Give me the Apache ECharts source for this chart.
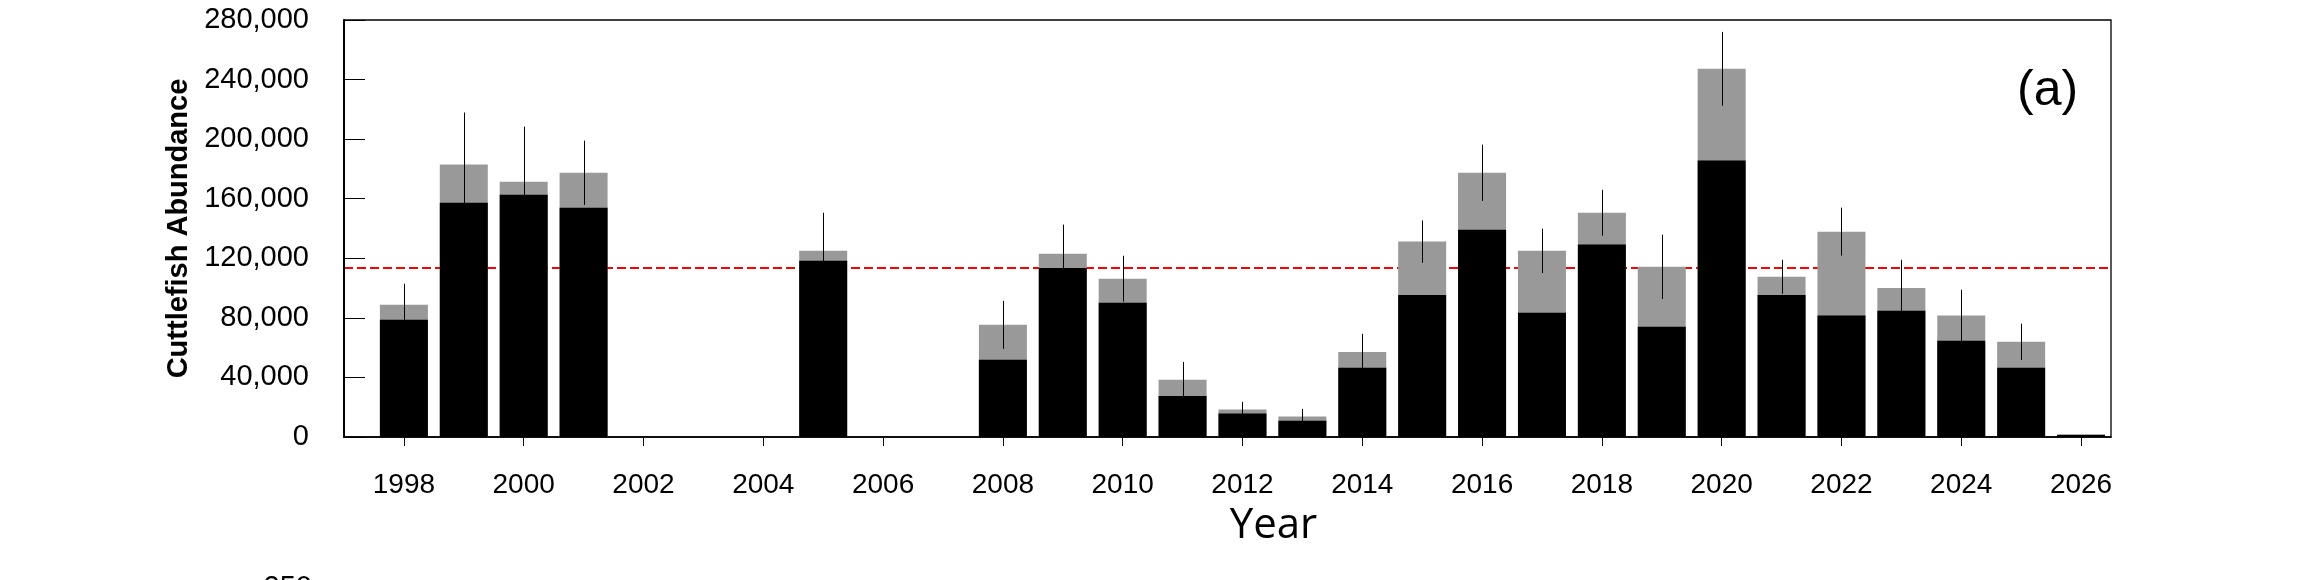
<!DOCTYPE html>
<html>
<head>
<meta charset="utf-8">
<script src="https://cdn.jsdelivr.net/npm/echarts@6/dist/echarts.min.js"></script>
<style>
  html, body { margin: 0; padding: 0; background: #fff; }
  #chart { width: 2301px; height: 580px; }
</style>
</head>
<body>
<div id="chart"></div>
<script>
// years with survey data (gaps in 2002-2004, 2006-2007)
var years      = [1998, 1999, 2000, 2001, 2005, 2008, 2009, 2010, 2011, 2012, 2013, 2014, 2015, 2016, 2017, 2018, 2019, 2020, 2021, 2022, 2023, 2024, 2025, 2026];
// black part of each bar
var lowerVals  = [78800, 157300, 162700, 154000, 118300, 51900, 113500, 90200, 27600, 15700, 10900, 46500, 95400, 139100, 83500, 129200, 74000, 185600, 95400, 81500, 84700, 64600, 46500, 1500];
// total height (top of grey part)
var totalVals  = [88800, 182900, 171400, 177400, 125000, 75300, 123000, 106300, 38500, 18400, 13700, 57100, 131200, 177400, 125000, 150600, 114300, 247200, 107600, 137900, 100100, 81500, 63900, 1500];
// +/- error around total
var errVals    = [14100, 35000, 37000, 21600, 25600, 16100, 19600, 15400, 11900, 5200, 5200, 12200, 14200, 18900, 14900, 15400, 21600, 24800, 11400, 16100, 18900, 17400, 12200, 0];
var meanLine   = 113900;
var yearTicks  = [1998, 2000, 2002, 2004, 2006, 2008, 2010, 2012, 2014, 2016, 2018, 2020, 2022, 2024, 2026];

var fontMain = "'Liberation Sans', Arial, sans-serif";

var blackData = [], greyData = [], errData = [];
for (var i = 0; i < years.length; i++) {
	blackData.push([years[i], lowerVals[i]]);
	greyData.push([years[i], totalVals[i]]);
	if (errVals[i] > 0) {
		errData.push([years[i], totalVals[i] - errVals[i], totalVals[i] + errVals[i]]);
	}
}

var option = {
	animation : false,
	backgroundColor : '#fff',
	grid : {
		left : 344,
		right : 190,
		top : 20,
		bottom : 143,
		show : true,
		borderColor : '#000',
		borderWidth : 1.3
	},
	xAxis : {
		type : 'value',
		min : 1997,
		max : 2026.5,
		name : 'Year',
		nameLocation : 'middle',
		nameGap : 68,
		nameTextStyle : {
			fontFamily : "'Open Sans', sans-serif",
			fontSize : 42,
			color : '#000',
			padding : [0, 0, 0, 92]
		},
		axisLine : { lineStyle : { color : '#000', width : 1.5 } },
		axisTick : {
			customValues : yearTicks,
			inside : false,
			length : 9,
			lineStyle : { color : '#000', width : 1 }
		},
		axisLabel : {
			customValues : yearTicks,
			margin : 34,
			fontFamily : fontMain,
			fontSize : 28,
			color : '#000',
			formatter : function (v) {
				return String(v);
			}
		},
		splitLine : { show : false }
	},
	yAxis : {
		type : 'value',
		min : 0,
		max : 280000,
		interval : 40000,
		name : 'Cuttlefish Abundance',
		nameLocation : 'middle',
		nameRotate : 90,
		nameGap : 150,
		nameTextStyle : {
			fontFamily : fontMain,
			fontSize : 29,
			fontWeight : 'bold',
			color : '#000'
		},
		axisLine : { show : true, lineStyle : { color : '#000', width : 2 } },
		axisTick : {
			show : true,
			inside : true,
			length : 21,
			lineStyle : { color : '#000', width : 1 }
		},
		axisLabel : {
			margin : 35,
			fontFamily : fontMain,
			fontSize : 29,
			color : '#000',
			formatter : function (v) {
				return v.toLocaleString('en-US');
			}
		},
		splitLine : { show : false }
	},
	graphic : [ {
		type : 'text',
		left : 2017,
		top : 66,
		style : {
			text : '(a)',
			fontFamily : fontMain,
			fontSize : 50,
			fill : '#000'
		}
	}, {
		type : 'text',
		x : 312,
		y : 573,
		style : {
			text : '250',
			align : 'right',
			verticalAlign : 'top',
			fontFamily : fontMain,
			fontSize : 29,
			fill : '#000'
		}
	} ],
	series : [ {
		// host for the mean line, kept under the bars
		name : 'mean',
		type : 'line',
		z : 0,
		data : [],
		markLine : {
			silent : true,
			z : 0,
			symbol : 'none',
			label : { show : false },
			lineStyle : { color : '#ff0000', width : 2, type : [9, 4] },
			data : [ { yAxis : meanLine } ]
		}
	}, {
		name : 'total',
		type : 'bar',
		barWidth : 48,
		barGap : '-100%',
		z : 2,
		itemStyle : { color : '#999999' },
		data : greyData
	}, {
		name : 'lower',
		type : 'bar',
		barWidth : 48,
		barGap : '-100%',
		z : 3,
		itemStyle : { color : '#000' },
		data : blackData
	}, {
		name : 'error',
		type : 'custom',
		z : 5,
		data : errData,
		renderItem : function (params, api) {
			var lo = api.coord([api.value(0), api.value(1)]);
			var hi = api.coord([api.value(0), api.value(2)]);
			var x = Math.round(lo[0]) + 0.5;
			return {
				type : 'line',
				shape : { x1 : x, y1 : lo[1], x2 : x, y2 : hi[1] },
				style : { stroke : '#000', lineWidth : 1 }
			};
		}
	} ]
};

var myChart = echarts.init(document.getElementById('chart'));
myChart.setOption(option);
</script>
</body>
</html>
